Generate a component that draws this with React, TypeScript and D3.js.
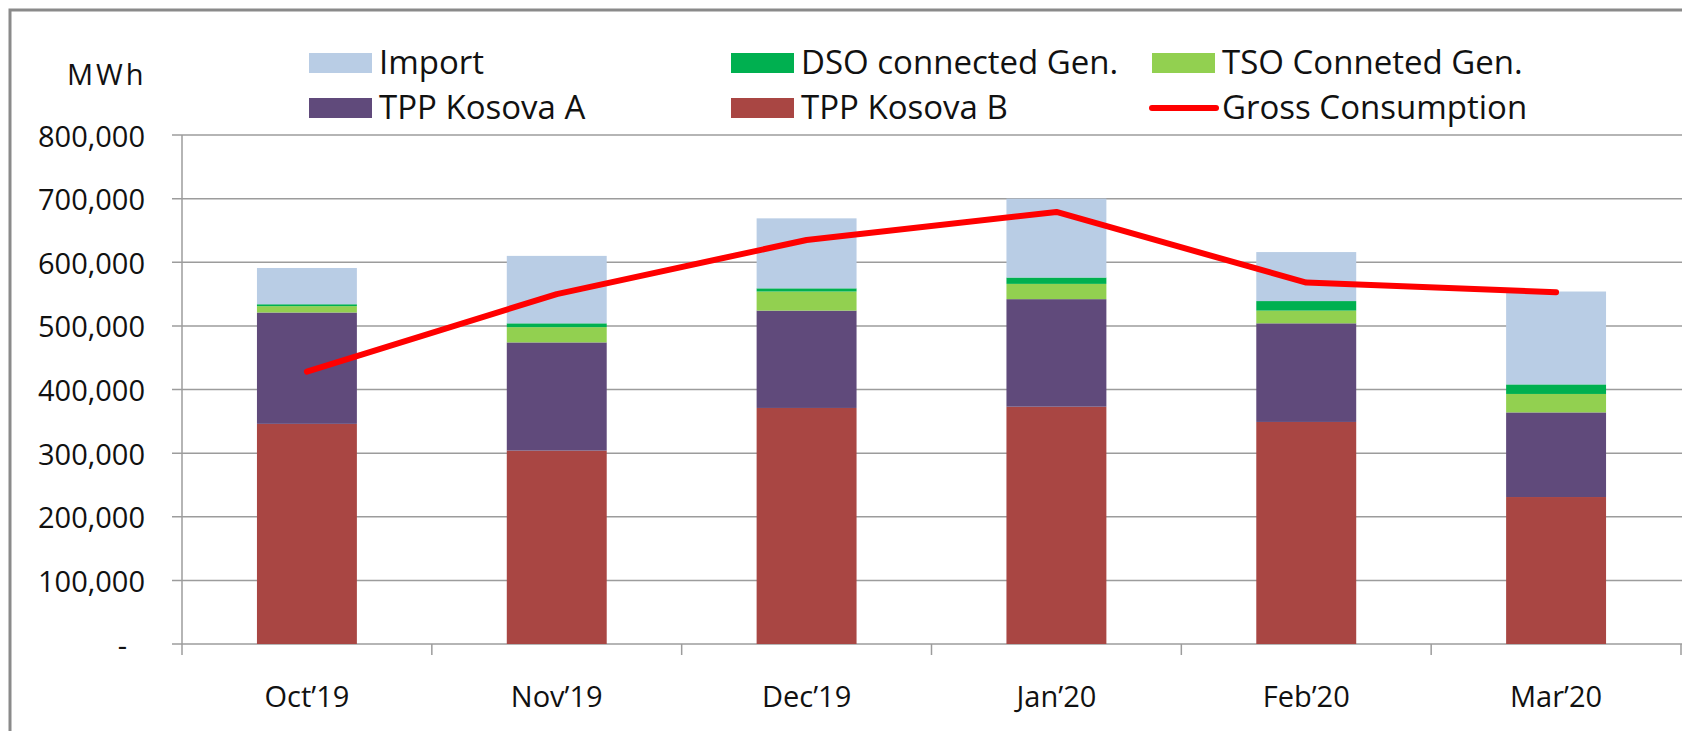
import React from "react";
import * as d3 from "d3";

const categories = ["Oct\u201919", "Nov\u201919", "Dec\u201919", "Jan\u201920", "Feb\u201920", "Mar\u201920"];
const kosovaB = [346000, 304000, 371000, 373000, 349000, 231000];
const kosovaA = [175000, 170000, 153000, 169000, 155000, 133000];
const tsoGen = [10000, 24000, 30000, 24000, 20000, 29000];
const dsoGen = [3000, 6000, 5000, 10000, 15000, 15000];
const importVals = [57000, 106000, 110000, 124000, 77000, 146000];
const grossConsumption = [428000, 550000, 635000, 679000, 568000, 553000];
const yTicks = [0, 100000, 200000, 300000, 400000, 500000, 600000, 700000, 800000];

const seriesKeys = ["kosovaB", "kosovaA", "tso", "dso", "import"];
const seriesNames: Record<string, string> = {
  import: "Import",
  dso: "DSO connected Gen.",
  tso: "TSO Conneted Gen.",
  kosovaA: "TPP Kosova A",
  kosovaB: "TPP Kosova B",
  gross: "Gross Consumption",
};
const colors: Record<string, string> = {
  import: "#B9CDE5",
  dso: "#00B050",
  tso: "#92D050",
  kosovaA: "#604A7B",
  kosovaB: "#A94643",
  gross: "#FF0000",
};
const legendRows = [
  ["import", "dso", "tso"],
  ["kosovaA", "kosovaB", "gross"],
];

const W = 1682;
const H = 731;
const X0 = 182;
const X1 = 1681;
const Y0 = 644;
const Y1 = 135;
const FONT = "'Open Sans', sans-serif";

export default function App() {
  const table = categories.map((c, i) => ({
    cat: c,
    kosovaB: kosovaB[i],
    kosovaA: kosovaA[i],
    tso: tsoGen[i],
    dso: dsoGen[i],
    import: importVals[i],
  }));
  const x = d3.scaleBand<string>().domain(categories).range([X0, X1]).padding(0);
  const y = d3.scaleLinear().domain([0, 800000]).range([Y0, Y1]);
  const stacked = d3.stack<any>().keys(seriesKeys)(table);
  const barW = x.bandwidth() * 0.4;
  const cx = (c: string) => (x(c) as number) + x.bandwidth() / 2;
  const line = d3
    .line<number>()
    .x((_, i) => cx(categories[i]))
    .y((d) => y(d));
  const fmt = d3.format(",");

  const legendColX = [309, 731, 1152];
  const legendRowY = [63, 108];

  return (
    <svg
      width={W}
      height={H}
      style={{ position: "absolute", left: 0, top: 0, background: "#fff" }}
      fontFamily={FONT}
    >
      <rect x={0} y={0} width={W} height={H} fill="#fff" />
      <rect x={10} y={10} width={W + 20} height={H + 20} fill="none" stroke="#8a8a8a" strokeWidth={3} />

      {/* gridlines and y ticks */}
      {yTicks.map((t) => (
        <g key={t}>
          <line x1={X0 - 10} x2={X1 + 2} y1={y(t)} y2={y(t)} stroke="#9c9c9c" strokeWidth={1.5} />
          <text
            x={t === 0 ? 127 : 145}
            y={y(t)}
            textAnchor="end"
            dominantBaseline="central"
            fontSize={29}
            fill="#111"
          >
            {t === 0 ? "-" : fmt(t)}
          </text>
        </g>
      ))}
      {/* y axis line */}
      <line x1={X0} x2={X0} y1={Y1} y2={Y0} stroke="#9c9c9c" strokeWidth={1.5} />
      {/* category ticks */}
      {categories.map((c) => (
        <line key={c} x1={x(c)} x2={x(c)} y1={Y0} y2={Y0 + 11} stroke="#9c9c9c" strokeWidth={1.5} />
      ))}
      <line x1={X1} x2={X1} y1={Y0} y2={Y0 + 11} stroke="#9c9c9c" strokeWidth={1.5} />

      {/* bars */}
      {stacked.map((s) => (
        <g key={s.key} fill={colors[s.key]}>
          {s.map((d, i) => (
            <rect
              key={i}
              x={cx(categories[i]) - barW / 2}
              width={barW}
              y={y(d[1])}
              height={y(d[0]) - y(d[1])}
            />
          ))}
        </g>
      ))}

      {/* gross consumption line */}
      <path
        d={line(grossConsumption) || ""}
        fill="none"
        stroke={colors.gross}
        strokeWidth={6}
        strokeLinejoin="round"
        strokeLinecap="round"
      />

      {/* category labels */}
      {categories.map((c) => (
        <text key={c} x={cx(c)} y={707} textAnchor="middle" fontSize={29} fill="#111">
          {c}
        </text>
      ))}

      {/* unit label */}
      <text x={67} y={85} fontSize={29} letterSpacing={3} fill="#111">
        MWh
      </text>

      {/* legend */}
      {legendRows.map((row, ri) =>
        row.map((k, ci) => {
          const lx = legendColX[ci];
          const ly = legendRowY[ri];
          return (
            <g key={k}>
              {k === "gross" ? (
                <line x1={lx} x2={lx + 64} y1={ly} y2={ly} stroke={colors[k]} strokeWidth={6} strokeLinecap="round" />
              ) : (
                <rect x={lx} y={ly - 10} width={63} height={20} fill={colors[k]} />
              )}
              <text x={lx + 70} y={ly + 11} fontSize={33} fill="#111">
                {seriesNames[k]}
              </text>
            </g>
          );
        })
      )}
    </svg>
  );
}
